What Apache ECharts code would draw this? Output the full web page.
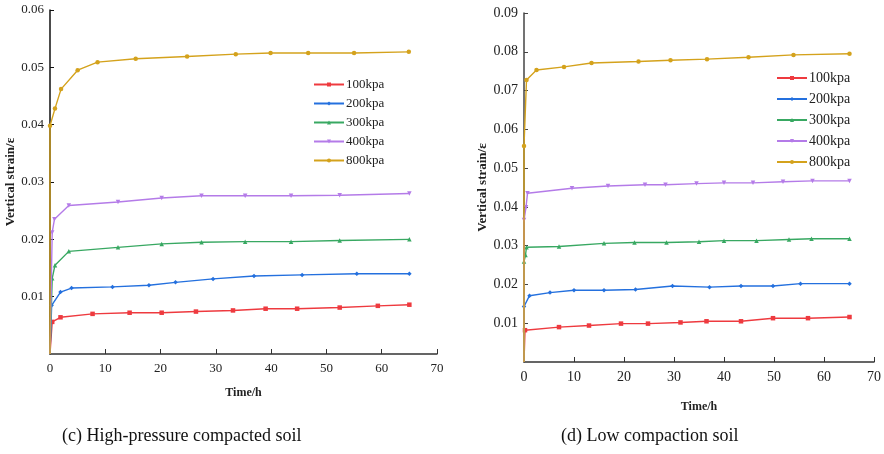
<!DOCTYPE html>
<html>
<head>
<meta charset="utf-8">
<script src="https://cdn.jsdelivr.net/npm/echarts@6/dist/echarts.min.js"></script>
<style>
  html, body { margin: 0; padding: 0; background: #fff; }
  #chart { width: 884px; height: 454px; }
</style>
</head>
<body>
<div id="chart"></div>
<script>
// Load levels shown in both panels
const loadNames = ['100kpa', '200kpa', '300kpa', '400kpa', '800kpa'];
const xTicks = [0, 10, 20, 30, 40, 50, 60, 70];

// (c) High-pressure compacted soil: time (h) and vertical strain
const c100_t = [0, 0.4, 1.9, 7.7, 14.4, 20.2, 26.4, 33.1, 39.0, 44.7, 52.4, 59.3, 65.0];
const c100_v = [0, 0.0056, 0.0064, 0.0070, 0.0072, 0.0072, 0.0074, 0.0076, 0.0079, 0.0079, 0.0081, 0.0084, 0.0086];
const c200_t = [0, 0.3, 1.9, 3.9, 11.3, 17.9, 22.7, 29.5, 36.9, 45.6, 55.5, 65.0];
const c200_v = [0, 0.0085, 0.0108, 0.0115, 0.0117, 0.0120, 0.0125, 0.0131, 0.0136, 0.0138, 0.0140, 0.0140];
const c300_t = [0, 0.4, 0.9, 3.4, 12.3, 20.2, 27.4, 35.3, 43.6, 52.4, 65.0];
const c300_v = [0, 0.0132, 0.0155, 0.0179, 0.0186, 0.0192, 0.0195, 0.0196, 0.0196, 0.0198, 0.0200];
const c400_t = [0, 0.4, 0.8, 3.4, 12.3, 20.2, 27.4, 35.3, 43.6, 52.4, 65.0];
const c400_v = [0, 0.0212, 0.0235, 0.0259, 0.0265, 0.0272, 0.0276, 0.0276, 0.0276, 0.0277, 0.0280];
const c800_t = [0, 0, 0.9, 2.0, 5.0, 8.6, 15.5, 24.8, 33.6, 39.9, 46.7, 55.0, 64.9];
const c800_v = [0, 0.0398, 0.0428, 0.0462, 0.0495, 0.0509, 0.0515, 0.0519, 0.0523, 0.0525, 0.0525, 0.0525, 0.0527];

// (d) Low compaction soil: time (h) and vertical strain
const d100_t = [0, 0.2, 7.0, 13.0, 19.4, 24.8, 31.3, 36.5, 43.4, 49.8, 56.8, 65.1];
const d100_v = [0, 0.0082, 0.0090, 0.0094, 0.0099, 0.0099, 0.0102, 0.0105, 0.0105, 0.0113, 0.0113, 0.0116];
const d200_t = [0, 0, 1.1, 5.2, 10.0, 16.0, 22.3, 29.7, 37.1, 43.4, 49.8, 55.3, 65.1];
const d200_v = [0, 0.0143, 0.0171, 0.0179, 0.0185, 0.0185, 0.0187, 0.0196, 0.0193, 0.0196, 0.0196, 0.0202, 0.0202];
const d300_t = [0, 0, 0.3, 0.5, 7.0, 16.0, 22.1, 28.5, 35.0, 40.0, 46.5, 53.0, 57.5, 65.1];
const d300_v = [0, 0.0259, 0.0276, 0.0296, 0.0298, 0.0306, 0.0308, 0.0308, 0.0310, 0.0313, 0.0313, 0.0316, 0.0318, 0.0318];
const d400_t = [0, 0, 0.4, 0.7, 9.6, 16.8, 24.2, 28.3, 34.5, 40.0, 45.8, 51.8, 57.7, 65.1];
const d400_v = [0, 0.0366, 0.0399, 0.0435, 0.0448, 0.0454, 0.0457, 0.0457, 0.0460, 0.0462, 0.0462, 0.0465, 0.0467, 0.0467];
const d800_t = [0, 0, 0.5, 2.5, 8.0, 13.5, 22.9, 29.3, 36.6, 44.9, 53.9, 65.1];
const d800_v = [0, 0.0557, 0.0727, 0.0753, 0.0761, 0.0771, 0.0775, 0.0778, 0.0781, 0.0786, 0.0792, 0.0795];

const colors = ['#ee3a3f', '#2470de', '#38a862', '#b47be8', '#d4a21c'];
const symbols = ['rect', 'diamond', 'triangle', 'triangle', 'circle'];
const rotations = [0, 0, 0, 180, 0];

const panelC = [[c100_t, c100_v], [c200_t, c200_v], [c300_t, c300_v], [c400_t, c400_v], [c800_t, c800_v]];
const panelD = [[d100_t, d100_v], [d200_t, d200_v], [d300_t, d300_v], [d400_t, d400_v], [d800_t, d800_v]];

const SERIF = 'Liberation Serif, Times New Roman, serif';

function pairs(t, v) {
  // the curves rise from the origin; no marker is drawn there
  return t.map((x, i) => (v[i] === 0 ? { value: [x, 0], symbolSize: 0 } : [x, v[i]]));
}

function buildSeries(panel, axisIndex) {
  return panel.map(([t, v], i) => ({
    name: loadNames[i],
    type: 'line',
    xAxisIndex: axisIndex,
    yAxisIndex: axisIndex,
    data: pairs(t, v),
    symbol: symbols[i],
    symbolRotate: rotations[i],
    symbolSize: 4.5,
    showAllSymbol: true,
    lineStyle: { color: colors[i], width: 1.4 },
    itemStyle: { color: colors[i] },
    z: 2 + i,
    animation: false
  }));
}

function xAxisDef(gridIndex, fontSize, nameGap) {
  return {
    type: 'value', gridIndex, min: 0, max: 70, interval: 10,
    name: 'Time/h', nameLocation: 'middle', nameGap,
    nameTextStyle: { fontFamily: SERIF, fontSize: 12, fontWeight: 'bold', color: '#222' },
    axisLine: { lineStyle: { color: '#333', width: 1.5 } },
    axisTick: { inside: true, length: 5, lineStyle: { color: '#333' } },
    axisLabel: { fontFamily: SERIF, fontSize, color: '#222', margin: 8 },
    splitLine: { show: false }
  };
}

function yAxisDef(gridIndex, max, fontSize, nameGap, lineColor) {
  return {
    type: 'value', gridIndex, min: 0, max, interval: 0.01,
    name: 'Vertical strain/\u03b5', nameLocation: 'middle', nameGap,
    nameTextStyle: { fontFamily: SERIF, fontSize: 13, fontWeight: 'bold', color: '#222' },
    axisLine: { show: true, lineStyle: { color: lineColor, width: 1.5 } },
    axisTick: { show: true, inside: true, length: 4, lineStyle: { color: lineColor } },
    axisLabel: {
      fontFamily: SERIF, fontSize, color: '#222', margin: 6, showMinLabel: false,
      formatter: (val) => val.toFixed(2)
    },
    splitLine: { show: false }
  };
}

function legendDef(left, top, gap, fontSize) {
  return {
    data: loadNames, orient: 'vertical', left, top, itemGap: gap,
    itemWidth: 30, itemHeight: 5, selectedMode: false,
    textStyle: { fontFamily: SERIF, fontSize, color: '#222', padding: [0, 0, 0, -3] }
  };
}

const chart = echarts.init(document.getElementById('chart'), null, { renderer: 'canvas' });
chart.setOption({
  backgroundColor: '#fff',
  animation: false,
  grid: [
    { left: 50, top: 10, width: 387, height: 344 },
    { left: 524, top: 13, width: 351, height: 349 }
  ],
  xAxis: [xAxisDef(0, 13, 33), xAxisDef(1, 14, 39)],
  yAxis: [yAxisDef(0, 0.06, 13, 31, '#111'), yAxisDef(1, 0.09, 14, 28, '#444')],
  legend: [legendDef(308, 73, 6, 13), legendDef(771, 66, 7, 14)],
  series: buildSeries(panelC, 0).concat(buildSeries(panelD, 1)),
  graphic: [
    { type: 'text', left: 62, top: 427,
      style: { text: '(c) High-pressure compacted soil', font: '18px ' + SERIF, fill: '#111' } },
    { type: 'text', left: 561, top: 427,
      style: { text: '(d) Low compaction soil', font: '18px ' + SERIF, fill: '#111' } }
  ]
});
</script>
</body>
</html>
